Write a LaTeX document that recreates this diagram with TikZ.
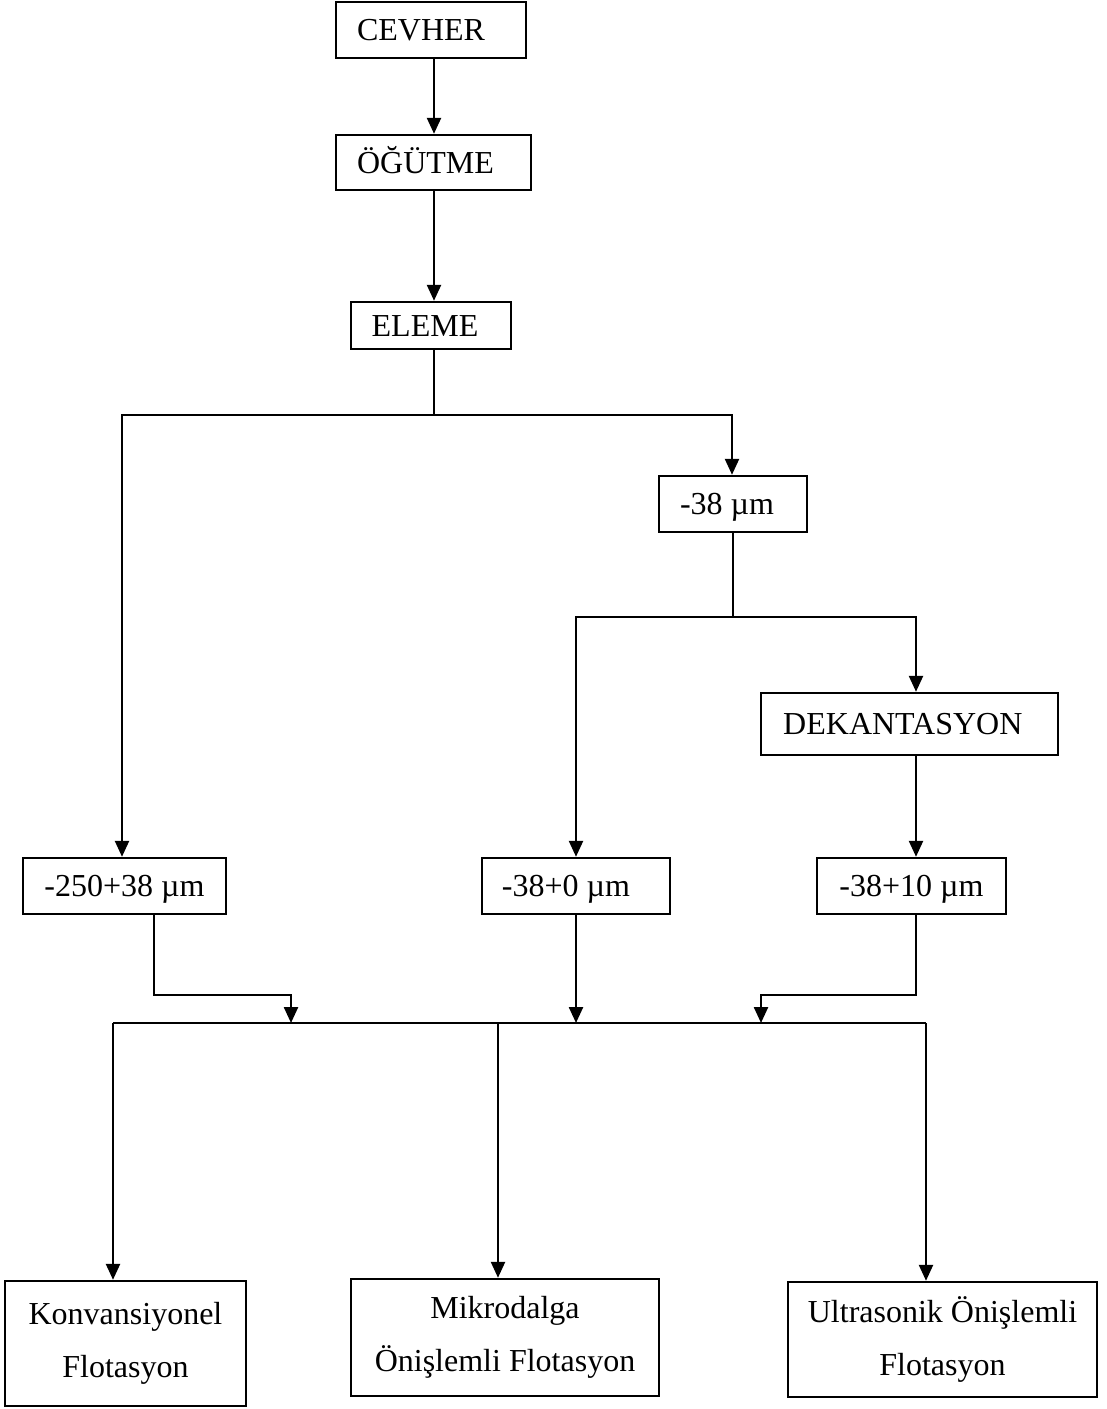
\documentclass[tikz,border=0pt]{standalone}
\usepackage{fontspec}
\setmainfont{Liberation Serif}
\usetikzlibrary{arrows.meta}

\begin{document}
\begin{tikzpicture}[x=0.75pt, y=-0.75pt]
            \tikzstyle{every node}+=[inner sep=0pt, font=\fontsize{24}{40}\selectfont]
            \tikzstyle{kutu}=[draw, black, line width=1.8pt]
            \tikzstyle{tek}=[kutu, text height=16pt, text depth=0pt]
            \tikzstyle{cift}=[kutu, align=center]
            \tikzstyle{hat}=[black, line width=1.8pt]
            \tikzstyle{ok}=[hat, -{Triangle[length=12pt, width=10.5pt]}]
            \tikzstyle{iki ok}=[hat, {Triangle[length=12pt, width=10.5pt]}-{Triangle[length=12pt, width=10.5pt]}]
            \useasboundingbox (0, 0) rectangle (1106, 1409);
            \node [tek, minimum width=142.5pt, minimum height=42pt] (cevher) at (431, 30) {CEVHER\kern15pt};
            \node [tek, minimum width=146.25pt, minimum height=41.25pt] (ogutme) at (433.5, 162.5) {ÖĞÜTME\kern12pt};
            \node [tek, minimum width=120pt, minimum height=35.25pt] (eleme) at (431, 325.5) {ELEME\kern9pt};
            \node [tek, minimum width=111pt, minimum height=42pt] (ince) at (733, 504) {-38 µm\kern9pt};
            \node [tek, minimum width=222.75pt, minimum height=46.5pt] (dekant) at (909.5, 724) {DEKANTASYON\kern10pt};
            \node [tek, minimum width=152.25pt, minimum height=42pt] (iri) at (124.5, 886) {-250+38 µm};
            \node [tek, minimum width=141pt, minimum height=42pt] (tum) at (576, 886) {-38+0 µm\kern15pt};
            \node [tek, minimum width=141.75pt, minimum height=42pt] (orta) at (911.5, 886) {-38+10 µm};
            \node [cift, minimum width=180.75pt, minimum height=93.75pt] (konv) at (125.5, 1343.5) {Konvansiyonel\\Flotasyon};
            \node [cift, minimum width=231pt, minimum height=87.75pt] (mikro) at (505, 1337.5) {Mikrodalga\\Önişlemli Flotasyon};
            \node [cift, minimum width=231.75pt, minimum height=86.25pt] (ultra) at (942.5, 1339.5) {Ultrasonik Önişlemli\\Flotasyon};
            \coordinate (a1) at (434, 0);
            \coordinate (e1) at (122, 415);
            \coordinate (e2) at (732, 415);
            \coordinate (d1) at (576, 617);
            \coordinate (d2) at (916, 617);
            \coordinate (g1) at (154, 995);
            \coordinate (g2) at (291, 1023);
            \coordinate (g3) at (916, 995);
            \coordinate (g4) at (761, 1023);
            \coordinate (b1) at (113, 1023);
            \coordinate (b2) at (498, 1023);
            \coordinate (b3) at (926, 1023);
            \draw [ok] (a1 |- cevher.south) -- (a1 |- ogutme.north);
            \draw [ok] (a1 |- ogutme.south) -- (a1 |- eleme.north);
            \draw [hat] (a1 |- eleme.south) -- (a1 |- e1);
            \draw [iki ok] (e1 |- iri.north) -- (e1) -- (e2) -- (e2 |- ince.north);
            \draw [hat] (ince.south) -- (ince.south |- d1);
            \draw [iki ok] (d1 |- tum.north) -- (d1) -- (d2) -- (d2 |- dekant.north);
            \draw [ok] (d2 |- dekant.south) -- (d2 |- orta.north);
            \draw [ok] (g1 |- iri.south) -- (g1) -| (g2);
            \draw [ok] (tum.south) -- (tum.south |- g2);
            \draw [ok] (g3 |- orta.south) -- (g3) -| (g4);
            \draw [hat] (b1) -- (b3);
            \draw [ok] (b1) -- (b1 |- konv.north);
            \draw [ok] (b2) -- (b2 |- mikro.north);
            \draw [ok] (b3) -- (b3 |- ultra.north);
        \end{tikzpicture}
\end{document}
